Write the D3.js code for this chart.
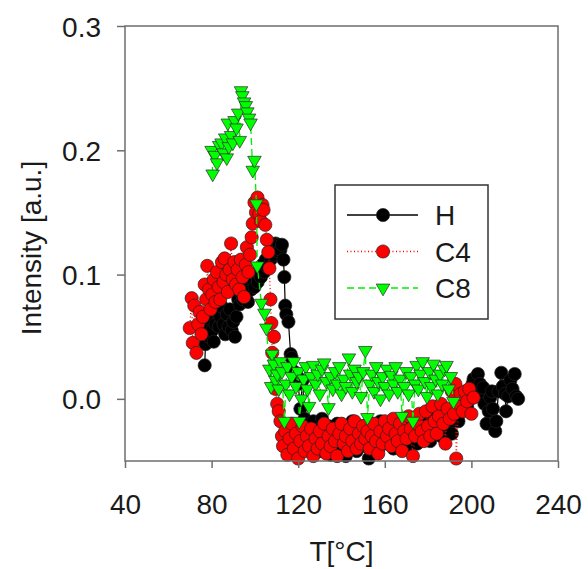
<!DOCTYPE html>
<html>
<head>
<meta charset="utf-8">
<script src="https://cdn.jsdelivr.net/npm/d3@7"></script>
<style>
    body { margin: 0; background: #fff; }
    svg { font-family: "Liberation Sans", Arial, sans-serif; }
</style>
</head>
<body>
<div class="chart"></div>
<script>
// series H (black)
const hT = [76.8, 77.2, 78, 78.8, 79.5, 80.3, 81, 81.8, 82.5, 83.3, 84, 84.8, 85.5, 86.3, 87, 87.8, 88.5, 89.3, 90, 90.8,
    91.5, 92.3, 93, 93.8, 94.5, 95.3, 96, 96.8, 97.5, 98.3, 99, 99.8, 100.5, 101.3, 102, 102.8, 103.5, 104.3, 105, 105.8,
    106.5, 107.3, 108, 108.8, 109.5, 110.3, 111, 111.8, 112.5, 113.2, 113.6, 114, 114.5, 115.5, 116.5, 117, 118, 119, 120, 121,
    122, 123, 124, 125, 126, 127, 128, 129, 130, 131, 132, 133, 134, 135, 136, 137, 138, 139, 140, 141,
    142, 143, 144, 145, 146, 147, 148, 149, 150, 151, 152.6, 153, 154, 155, 156, 157, 158, 159, 160, 161,
    162, 163, 164, 165, 166, 167, 168, 169, 170, 171, 172, 173, 174, 175, 176, 177, 178, 179, 180, 181,
    182, 183, 184, 185, 186, 187, 188, 189, 190, 191, 192, 193, 194, 195, 196, 197, 198, 199.5, 200.5, 201,
    202, 203, 204, 205, 205.5, 206, 207, 208, 208.7, 209.5, 210, 211, 211.5, 212.5, 213.8, 214.5, 215.5, 216, 217, 218,
    219, 220, 220.7, 221.6];
const hI = [0.027, 0.044, 0.058, 0.050, 0.064, 0.055, 0.046, 0.060, 0.070, 0.058, 0.066, 0.074, 0.060, 0.052, 0.068, 0.058, 0.072, 0.055, 0.062, 0.050,
    0.066, 0.080, 0.076, 0.085, 0.080, 0.090, 0.084, 0.078, 0.092, 0.088, 0.096, 0.090, 0.100, 0.094, 0.104, 0.098, 0.108, 0.102, 0.112, 0.106,
    0.118, 0.112, 0.121, 0.116, 0.125, 0.119, 0.124, 0.120, 0.124, 0.112, 0.098, 0.075, 0.068, 0.062, 0.036, 0.033, 0.022, 0.020, 0.012, -0.008,
    0.015, -0.016, -0.022, -0.040, -0.028, -0.018, -0.035, -0.025, -0.042, -0.016, -0.030, -0.038, -0.022, -0.045, -0.028, -0.034, -0.020, -0.040, -0.026, -0.032,
    -0.046, -0.024, -0.036, -0.018, -0.030, -0.042, -0.026, -0.034, -0.022, -0.038, -0.048, -0.030, -0.020, -0.036, -0.026, -0.040, -0.018, -0.030, -0.024, -0.036,
    -0.022, -0.030, -0.040, -0.020, -0.028, -0.034, -0.016, -0.026, -0.038, -0.022, -0.030, -0.018, -0.028, -0.036, -0.020, -0.026, -0.014, -0.030, -0.022, -0.034,
    -0.018, -0.026, -0.012, -0.024, -0.030, -0.016, -0.022, -0.010, -0.020, -0.028, -0.014, -0.008, -0.018, -0.010, -0.004, 0.004, -0.006, 0.000, 0.012, 0.016,
    0.008, 0.020, 0.012, 0.004, 0.009, -0.004, -0.020, -0.010, 0.001, 0.006, -0.008, -0.026, -0.018, 0.006, 0.021, 0.010, 0.004, -0.010, 0.002, 0.015,
    0.008, 0.020, 0.002, 0.000];

// series C4 (red)
const c4T = [69.9, 70.8, 71.3, 72, 73, 73.8, 74.5, 75.3, 76, 76.8, 77.5, 78, 78.8, 79.5, 80.3, 81, 81.8, 82.5, 83.3, 84,
    84.8, 85.5, 86, 86.8, 87.5, 88.3, 89, 89.8, 90.5, 91.3, 92, 92.8, 93.5, 94.3, 95, 95.8, 96.3, 97, 97.8, 98.5,
    99, 99.8, 100.5, 101.2, 102, 102.8, 103.5, 104, 104.8, 105.5, 106.2, 106.7, 107.2, 107.6, 108, 108.8, 109.5, 110.3, 111, 111.8,
    112.5, 113, 114, 115, 116, 117, 118, 119, 120, 121, 122, 123, 124, 125, 126, 127, 128, 129, 130, 131,
    132, 133, 134, 135, 136, 137, 138, 139, 140, 141, 142, 143, 144, 145, 146, 147, 148, 149, 150, 151,
    152, 153, 154, 155, 156, 157, 158, 159, 160, 161, 162, 163, 164, 165, 166, 167, 168, 169, 170, 171,
    172, 173, 174, 175, 176, 177, 178, 179, 180, 181, 182, 183, 184, 185, 186, 187, 188, 189, 190, 191,
    192, 192.6, 193, 194, 195, 196, 197, 198, 199, 200, 201];
const c4I = [0.057, 0.081, 0.045, 0.075, 0.037, 0.060, 0.070, 0.052, 0.066, 0.092, 0.080, 0.107, 0.088, 0.072, 0.084, 0.096, 0.078, 0.102, 0.090, 0.080,
    0.110, 0.094, 0.113, 0.100, 0.086, 0.104, 0.125, 0.096, 0.110, 0.092, 0.104, 0.088, 0.112, 0.098, 0.082, 0.108, 0.122, 0.102, 0.116, 0.130,
    0.141, 0.158, 0.150, 0.162, 0.149, 0.143, 0.156, 0.152, 0.140, 0.128, 0.118, 0.105, 0.080, 0.061, 0.037, 0.050, 0.008, -0.004, -0.010, -0.018,
    -0.030, -0.038, -0.026, -0.045, -0.032, -0.020, -0.040, -0.028, -0.048, -0.034, -0.022, -0.042, -0.030, -0.038, -0.024, -0.046, -0.032, -0.040, -0.026, -0.036,
    -0.020, -0.044, -0.030, -0.038, -0.024, -0.034, -0.046, -0.028, -0.020, -0.036, -0.030, -0.042, -0.024, -0.034, -0.018, -0.040, -0.028, -0.036, -0.022, -0.032,
    -0.026, -0.040, -0.030, -0.020, -0.034, -0.044, -0.026, -0.036, -0.018, -0.030, -0.024, -0.038, -0.016, -0.028, -0.034, -0.020, -0.042, -0.026, -0.032, -0.014,
    -0.024, -0.046, -0.030, -0.020, -0.012, -0.026, -0.034, -0.010, -0.022, -0.030, -0.006, -0.018, -0.028, -0.014, -0.004, -0.020, -0.036, -0.008, -0.016, 0.006,
    -0.012, 0.012, -0.048, -0.004, 0.004, -0.010, 0.006, -0.002, 0.008, -0.012, 0.001];

// series C8 (green)
const c8T = [80.5, 80, 81.5, 82.5, 83.5, 84.6, 85.5, 86.3, 87, 87.5, 88, 89, 89.8, 90.6, 91.5, 92.3, 93, 93.6, 94.2, 95,
    95.8, 96.5, 97.3, 98, 99, 99.8, 100.7, 101.1, 103, 104.4, 105.3, 106.7, 107.5, 108, 108.8, 109.5, 110.3, 111, 111.8, 112.5,
    113.6, 114.3, 115, 116, 117, 118, 119, 120, 120.5, 121.5, 122.5, 123.5, 124.2, 125, 126, 127, 128, 129, 130, 131,
    132, 133, 134, 135, 136, 137, 138, 139, 140, 141, 142, 143.4, 144, 145, 146, 147, 148, 149, 150, 151,
    152, 153, 154, 155, 156, 157, 158, 159, 160, 161, 162, 163, 164, 165, 166, 167, 168, 169, 170, 171,
    172, 173, 174, 174.7, 175.5, 176.5, 177.5, 178.5, 179.5, 180.5, 181.5, 182.5, 183.5, 184.5, 185.5, 186.5, 187.5, 188.5, 189.5, 190.5,
    191.7];
const c8I = [0.181, 0.200, 0.196, 0.190, 0.204, 0.206, 0.198, 0.210, 0.194, 0.222, 0.203, 0.212, 0.206, 0.224, 0.218, 0.230, 0.208, 0.248, 0.244, 0.239,
    0.236, 0.231, 0.226, 0.222, 0.184, 0.192, 0.157, 0.107, 0.077, 0.069, 0.057, 0.024, 0.010, 0.036, 0.028, 0.015, 0.020, 0.008, 0.030, 0.022,
    -0.018, 0.012, 0.026, 0.004, 0.018, 0.030, 0.010, 0.022, -0.018, 0.000, 0.016, 0.026, 0.008, -0.006, 0.018, 0.027, 0.012, 0.020, 0.004, 0.024,
    0.029, 0.014, -0.007, 0.018, 0.008, 0.022, 0.012, 0.026, 0.004, 0.016, 0.010, 0.033, 0.020, 0.006, 0.024, 0.014, 0.018, 0.002, 0.022, 0.039,
    -0.015, 0.012, 0.020, 0.006, 0.026, 0.014, 0.000, 0.018, 0.010, 0.024, 0.004, 0.019, 0.012, 0.026, 0.006, 0.016, -0.014, 0.010, 0.022, 0.004,
    0.018, -0.018, 0.012, 0.027, 0.008, 0.020, 0.030, 0.014, 0.002, 0.022, 0.010, 0.028, 0.016, 0.004, 0.020, 0.012, 0.024, 0.027, 0.008, 0.018,
    -0.002];

const xTicks = [40, 80, 120, 160, 200, 240];
const yTicks = [0.0, 0.1, 0.2, 0.3];
const seriesNames = ["H", "C4", "C8"];

const config = {
    margin: {top: 26, right: 30, bottom: 108, left: 125},
    width: 588,
    height: 569
};

const {margin, width, height} = config;
const w = width - margin.left - margin.right;
const h = height - margin.top - margin.bottom;

const x = d3.scaleLinear().domain([40, 240]).range([0, w]);
const y = d3.scaleLinear().domain([-0.05, 0.3]).range([h, 0]);

const svg = d3.select(".chart").append("svg")
    .attr("width", width)
    .attr("height", height);

const chart = svg.append("g")
    .attr("transform", "translate(" + margin.left + "," + margin.top + ")");

const series = [
    {name: "H", T: hT, I: hI, fill: "#000000", line: "#000000", dash: null, shape: "circle"},
    {name: "C4", T: c4T, I: c4I, fill: "#ff0000", line: "#ff0000", dash: "1,2.5", shape: "circle"},
    {name: "C8", T: c8T, I: c8I, fill: "#00ff00", line: "#00ee00", dash: "7,4", shape: "tri"}
];

const tri = d3.symbol().type(d3.symbolTriangle).size(80);

function drawMarker(g, s, px, py) {
    if (s.shape === "circle") {
        g.append("circle")
            .attr("cx", px).attr("cy", py).attr("r", 6.6)
            .attr("fill", s.fill)
            .attr("stroke", "#222").attr("stroke-width", 0.7);
    } else {
        g.append("path")
            .attr("d", tri())
            .attr("transform", "translate(" + px + "," + (py) + ") rotate(180)")
            .attr("fill", s.fill)
            .attr("stroke", "#2a2a2a").attr("stroke-width", 0.7);
    }
}

const plot = chart.append("g");

series.forEach(s => {
    const pts = s.T.map((t, i) => [t, s.I[i]]);
    const g = plot.append("g").attr("class", "series");
    g.append("path")
        .datum(pts)
        .attr("fill", "none")
        .attr("stroke", s.line)
        .attr("stroke-width", s.dash ? 1.3 : 1.2)
        .attr("stroke-dasharray", s.dash)
        .attr("d", d3.line().x(d => x(d[0])).y(d => y(d[1])));
    pts.forEach(d => drawMarker(g, s, x(d[0]), y(d[1])));
});

// frame
chart.append("rect")
    .attr("x", 0).attr("y", 0).attr("width", w).attr("height", h)
    .attr("fill", "none").attr("stroke", "#6e6e6e").attr("stroke-width", 1.5);

// axes
const xAxis = chart.append("g")
    .attr("transform", "translate(0," + h + ")")
    .call(d3.axisBottom(x).tickValues(xTicks).tickSize(7).tickPadding(26).tickFormat(d3.format("d")));
const yAxis = chart.append("g")
    .call(d3.axisLeft(y).tickValues(yTicks).tickSize(8).tickPadding(16).tickFormat(d3.format(".1f")));

[xAxis, yAxis].forEach(a => {
    a.select(".domain").remove();
    a.selectAll("line").attr("stroke", "#6e6e6e").attr("stroke-width", 1.5);
    a.selectAll("text")
        .attr("font-size", 28)
        .attr("fill", "#1a1a1a")
        .attr("font-family", "Liberation Sans, Arial, sans-serif");
});
yAxis.selectAll("text").attr("dy", "0.36em");

// axis titles
svg.append("text")
    .attr("x", margin.left + w / 2 - 0)
    .attr("y", 561)
    .attr("text-anchor", "middle")
    .attr("font-size", 28)
    .attr("fill", "#1a1a1a")
    .text("T[°C]");

svg.append("text")
    .attr("transform", "translate(41," + (margin.top + 222) + ") rotate(-90)")
    .attr("text-anchor", "middle")
    .attr("font-size", 28)
    .attr("fill", "#1a1a1a")
    .text("Intensity [a.u.]");

// legend
const legend = svg.append("g");
legend.append("rect")
    .attr("x", 335).attr("y", 185).attr("width", 153).attr("height", 134)
    .attr("fill", "#fff").attr("stroke", "#333").attr("stroke-width", 1.5);

series.forEach((s, i) => {
    const ly = 215 + i * 36.5;
    legend.append("line")
        .attr("x1", 347).attr("x2", 418).attr("y1", ly).attr("y2", ly)
        .attr("stroke", s.line).attr("stroke-width", 1.3)
        .attr("stroke-dasharray", s.dash);
    drawMarker(legend, s, 383, ly);
    legend.append("text")
        .attr("x", 435).attr("y", ly + 10)
        .attr("font-size", 28)
        .attr("fill", "#1a1a1a")
        .text(seriesNames[i]);
});
</script>
</body>
</html>
